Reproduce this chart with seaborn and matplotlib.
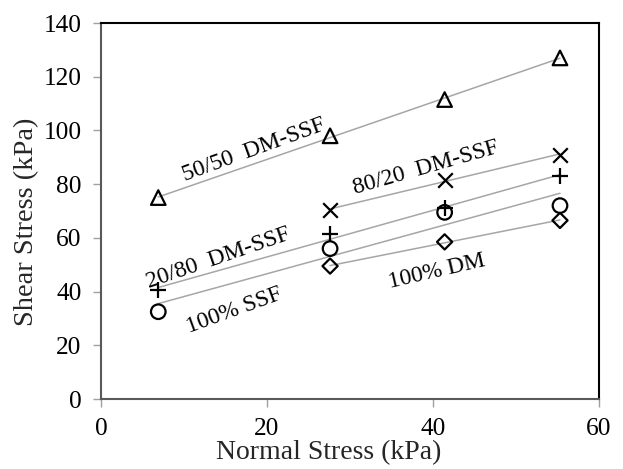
import numpy as np
import pandas as pd
import matplotlib
matplotlib.use("Agg")
import matplotlib.pyplot as plt
import seaborn as sns

# ---- data ----
normal_stress = [6.9, 27.6, 41.4, 55.3]
series_names = ["50/50  DM-SSF", "80/20  DM-SSF", "20/80  DM-SSF", "100% SSF", "100% DM"]
shear_5050 = [75.0, 98.0, 111.5, 127.0]
shear_8020 = [np.nan, 70.5, 81.5, 91.0]
shear_2080 = [40.5, 61.5, 71.0, 83.0]
shear_ssf = [32.5, 56.0, 69.5, 72.0]
shear_dm = [np.nan, 49.5, 58.5, 66.5]
x_ticks = [0, 20, 40, 60]
y_ticks = [0, 20, 40, 60, 80, 100, 120, 140]

series_values = [shear_5050, shear_8020, shear_2080, shear_ssf, shear_dm]
rows = []
for name, vals in zip(series_names, series_values):
    for xv, yv in zip(normal_stress, vals):
        if not np.isnan(yv):
            rows.append({"series": name, "normal": xv, "shear": yv})
df = pd.DataFrame(rows)

sns.set_theme(style="white")
plt.rcParams["font.family"] = ["Liberation Serif", "DejaVu Serif"]

fig = plt.figure(figsize=(6.23, 4.69), dpi=100)
ax = fig.add_axes([101 / 623, 1 - 399 / 469, 498 / 623, 376 / 469])

markers = {"50/50  DM-SSF": "^", "80/20  DM-SSF": "x", "20/80  DM-SSF": "+",
           "100% SSF": "o", "100% DM": "D"}
sizes = {"50/50  DM-SSF": 110, "80/20  DM-SSF": 110, "20/80  DM-SSF": 120,
         "100% SSF": 110, "100% DM": 60}

# trend lines
for name in series_names:
    sub = df[df.series == name]
    sns.regplot(data=sub, x="normal", y="shear", ax=ax, scatter=False, ci=None,
                line_kws={"color": "#a6a6a6", "lw": 1.1, "zorder": 1})

# markers
for name in series_names:
    sub = df[df.series == name]
    m = markers[name]
    if m in ("x", "+"):
        ax.scatter(sub.normal, sub.shear, marker=m, s=sizes[name], c="black",
                   linewidths=1.6, zorder=3)
    else:
        ax.scatter(sub.normal, sub.shear, marker=m, s=sizes[name],
                   facecolors="none", edgecolors="black", linewidths=1.6, zorder=3)

# series labels
label_pos = {"50/50  DM-SSF": (18.4, 92.8, 20), "80/20  DM-SSF": (39.2, 86.0, 16),
             "20/80  DM-SSF": (14.1, 52.5, 19), "100% SSF": (16.1, 33.0, 20),
             "100% DM": (40.4, 47.3, 13)}
for name in series_names:
    lx, ly, rot = label_pos[name]
    ax.text(lx, ly, name, fontsize=17, rotation=rot, rotation_mode="anchor",
            ha="center", va="center", color="black")

ax.set_xlim(0, 60)
ax.set_ylim(0, 140)
ax.set_xticks(x_ticks)
ax.set_yticks(y_ticks)
ax.tick_params(axis="both", which="both", direction="out", length=6, width=1,
               color="#a0a0a0", labelsize=18.3, labelcolor="black", pad=8,
               left=True, bottom=True)
for side in ("left", "bottom"):
    ax.spines[side].set_color("#595959")
    ax.spines[side].set_linewidth(1.5)
for side in ("top", "right"):
    ax.spines[side].set_color("black")
    ax.spines[side].set_linewidth(1.5)
ax.set_xlabel("")
ax.set_ylabel("")
fig.text(329 / 623, 1 - 453 / 469, "Normal Stress (kPa)", fontsize=20,
         ha="center", va="center")
fig.text(27 / 623, 1 - 222 / 469, "Shear Stress (kPa)", fontsize=20.5,
         ha="center", va="center", rotation=90)

fig.savefig("out.png", dpi=100)
